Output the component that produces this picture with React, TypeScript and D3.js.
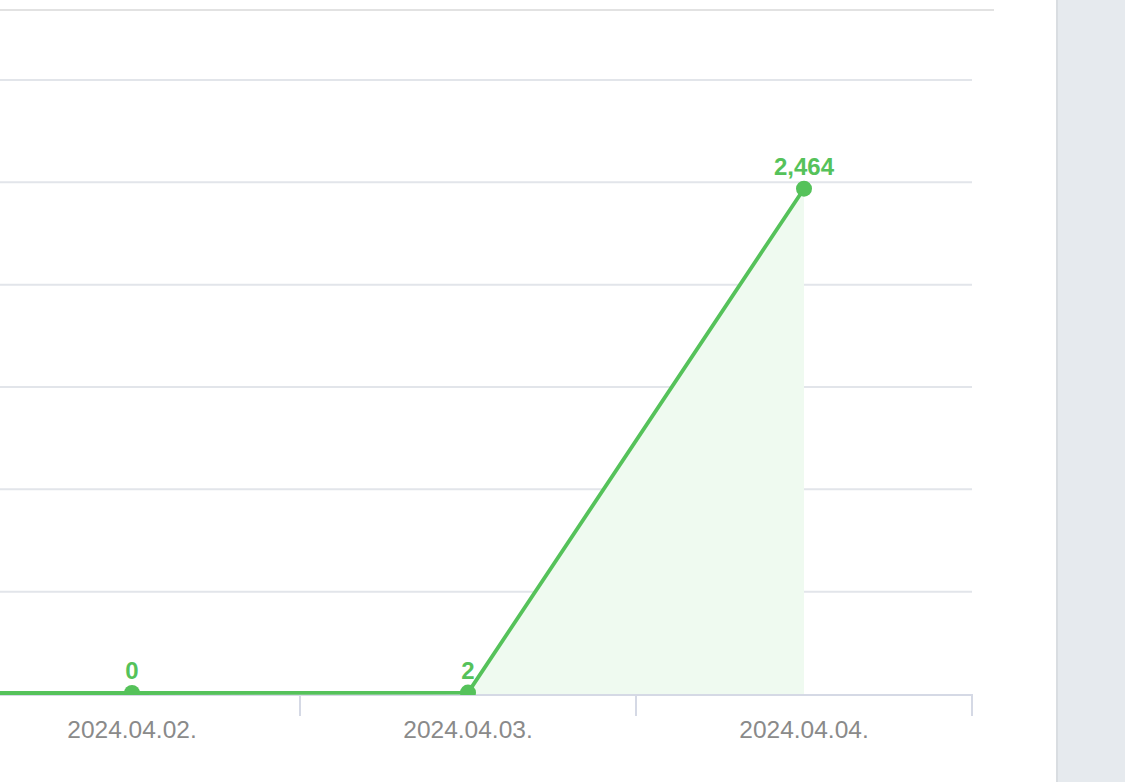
import React from "react";
import * as d3 from "d3";

const categories = ["2024.04.01.", "2024.04.02.", "2024.04.03.", "2024.04.04."];
const values = [0, 0, 2, 2464];
const yTicks = [0, 500, 1000, 1500, 2000, 2500, 3000];

const W = 1125;
const H = 782;
const GREEN = "#55c25a";

export default function App() {
  const x = d3.scaleBand<string>().domain(categories).range([-372, 972]);
  const y = d3.scaleLinear().domain([0, 3000]).range([694, 80]);
  const cx = (c: string) => (x(c) as number) + x.bandwidth() / 2;
  const pts = categories.map((c, i) => ({ c, v: values[i] }));
  const line = d3.line<{ c: string; v: number }>().x((d) => cx(d.c)).y((d) => y(d.v) - 1);
  const area = d3
    .area<{ c: string; v: number }>()
    .x((d) => cx(d.c))
    .y0(y(0))
    .y1((d) => y(d.v) - 1);
  const bounds = categories.map((c) => x(c) as number).concat([972]);
  const fmt = d3.format(",");
  const visible = pts.filter((p) => cx(p.c) >= 0);
  return (
    <div style={{ position: "fixed", left: 0, top: 0, width: W, height: H, background: "#fff" }}>
      <svg width={W} height={H} style={{ display: "block", fontFamily: "'Liberation Sans', Arial, sans-serif" }}>
        <defs>
          <clipPath id="plotClip">
            <rect x={-400} y={0} width={1400} height={y(0) + 1} />
          </clipPath>
        </defs>
        <rect x={0} y={0} width={W} height={H} fill="#fff" />
        <line x1={0} x2={994} y1={10} y2={10} stroke="#e2e2e2" strokeWidth={2} />
        {yTicks.slice(1).map((t) => (
          <line key={t} x1={0} x2={972} y1={y(t)} y2={y(t)} stroke="#e2e5ea" strokeWidth={2} />
        ))}
        <path d={area(pts) || ""} fill="#effaf0" />
        <line x1={0} x2={973} y1={y(0) + 1} y2={y(0) + 1} stroke="#d5d9e5" strokeWidth={2} />
        {bounds
          .filter((b) => b >= 0)
          .map((b, i) => (
            <line key={i} x1={b} x2={b} y1={y(0) + 1} y2={y(0) + 22} stroke="#d5d9e5" strokeWidth={2} />
          ))}
        <g clipPath="url(#plotClip)">
          <path d={line(pts) || ""} fill="none" stroke={GREEN} strokeWidth={3.8} strokeLinejoin="round" />
          {visible.map((p) => (
            <circle key={p.c} cx={cx(p.c)} cy={y(p.v) - 1} r={8} fill={GREEN} />
          ))}
        </g>
        {visible.map((p) => (
          <text
            key={"l" + p.c}
            x={cx(p.c)}
            y={y(p.v) - 15}
            textAnchor="middle"
            fill={GREEN}
            fontWeight="bold"
            fontSize={24}
          >
            {fmt(p.v)}
          </text>
        ))}
        {visible.map((p) => (
          <text key={"x" + p.c} x={cx(p.c)} y={738} textAnchor="middle" fill="#8a8a8a" fontSize={24.5}>
            {p.c}
          </text>
        ))}
        <rect x={1057} y={0} width={68} height={H} fill="#e6eaee" />
        <line x1={1057} x2={1057} y1={0} y2={H} stroke="#d9dde1" strokeWidth={2} />
      </svg>
    </div>
  );
}
